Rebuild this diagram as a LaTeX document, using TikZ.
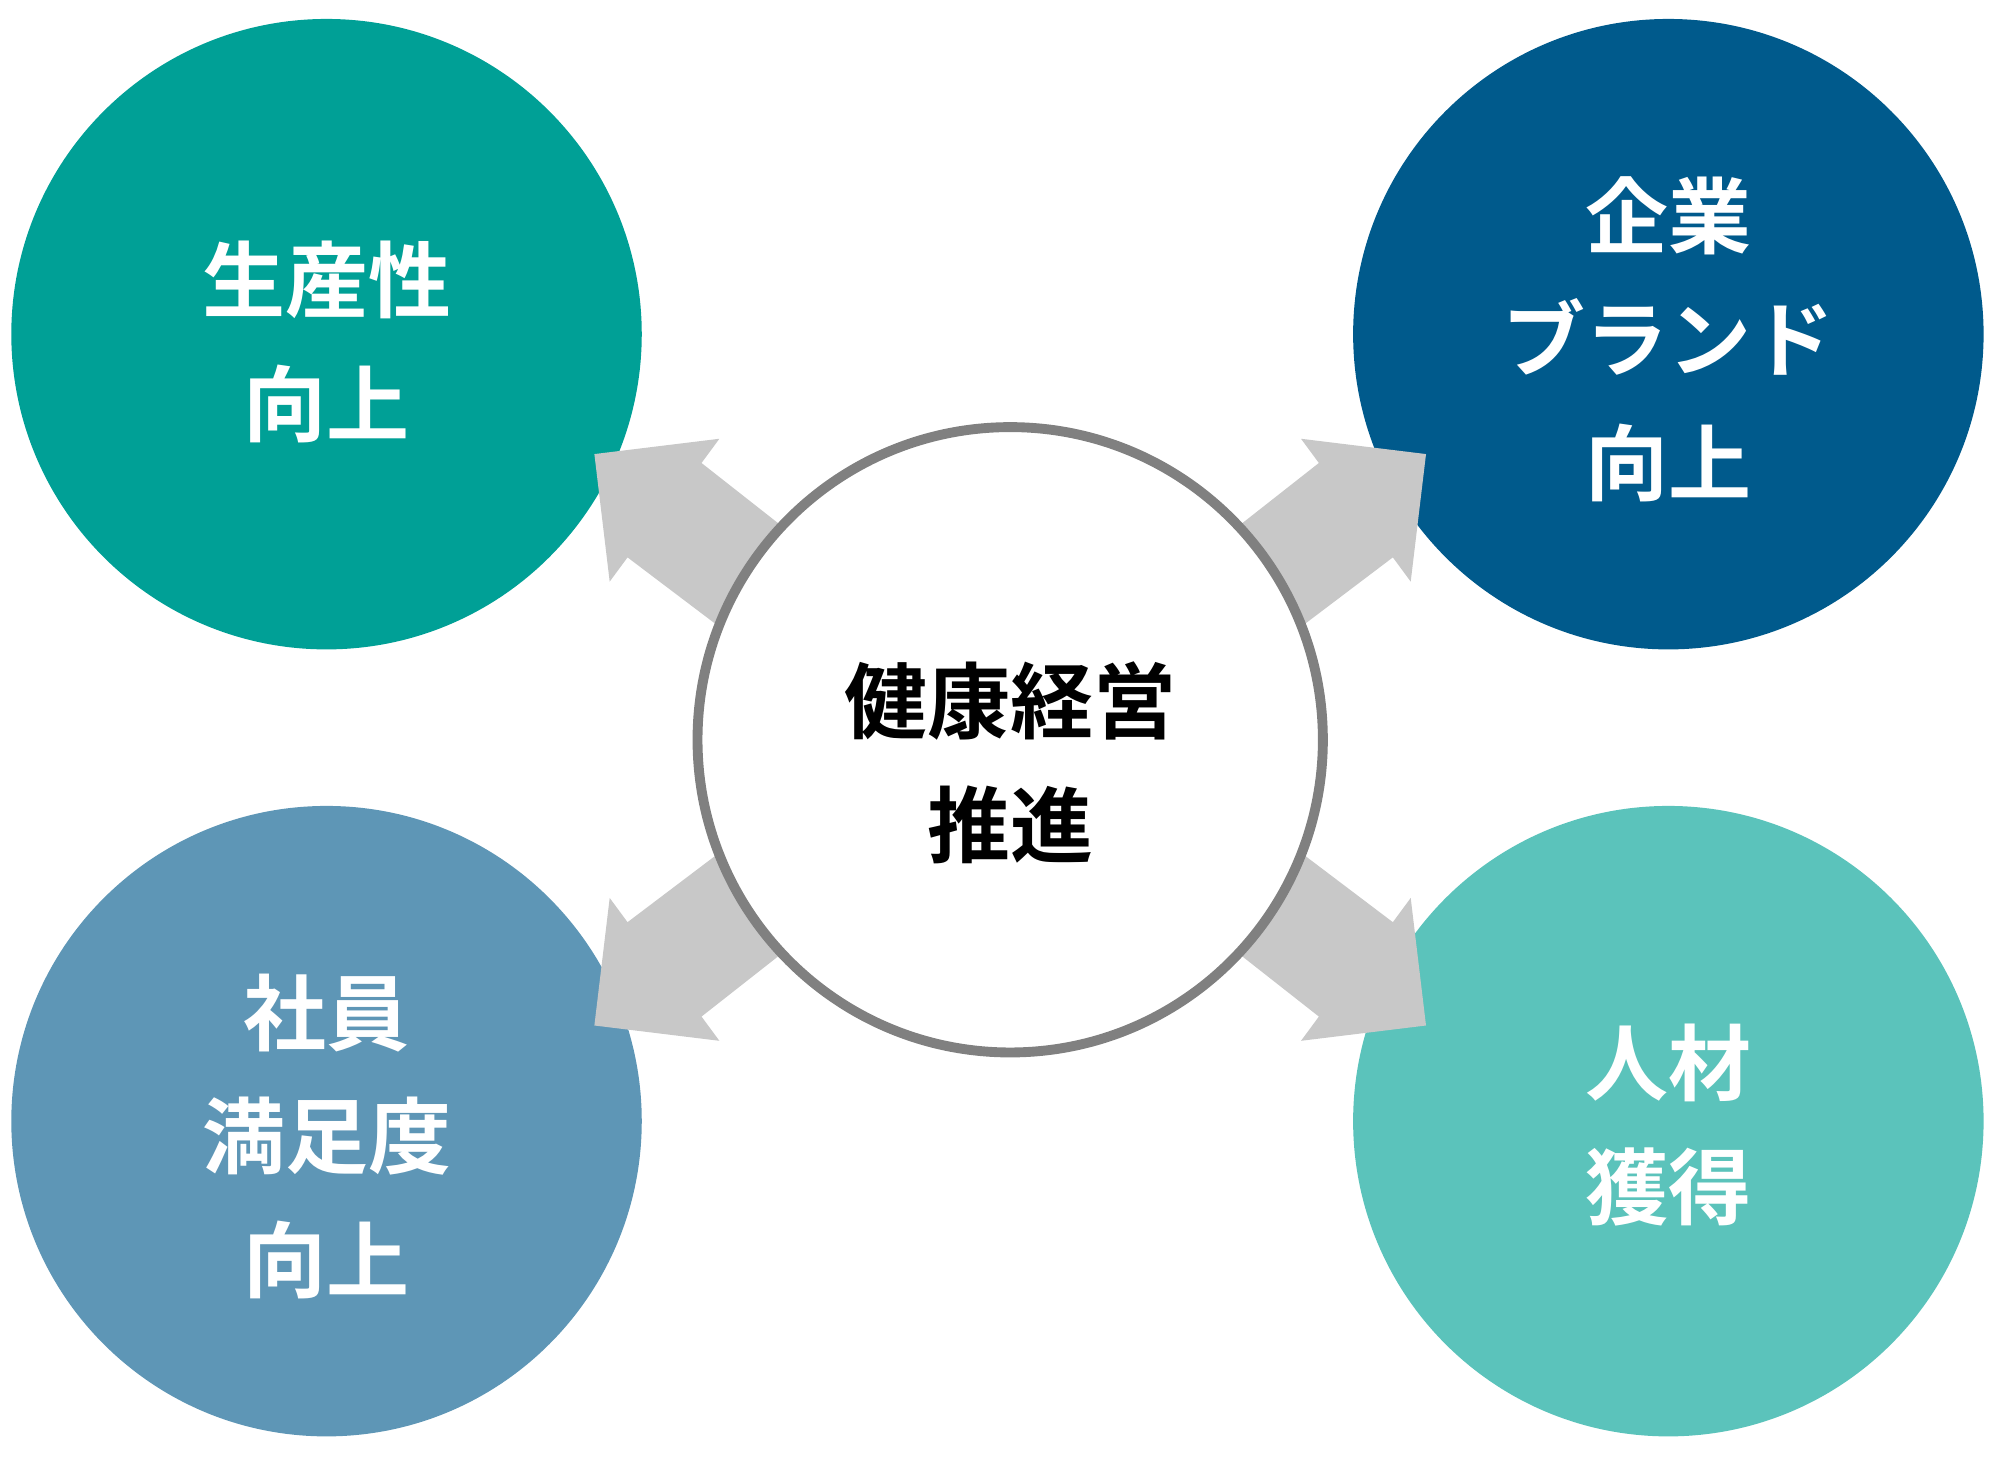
\documentclass[tikz,border=0pt]{standalone}
\usepackage{fontspec}
\newfontfamily\cjk{Noto Sans CJK JP Bold}
\definecolor{cTL}{HTML}{00A096}
\definecolor{cTR}{HTML}{005A8C}
\definecolor{cBL}{HTML}{5E96B6}
\definecolor{cBR}{HTML}{5BC3BB}
\definecolor{arr}{HTML}{C8C8C8}
\definecolor{ring}{HTML}{808080}
\begin{document}
\begin{tikzpicture}[x=0.01cm,y=-0.01cm,
  outer/.style={circle,minimum size=4.94cm,inner sep=0pt},
  lbl/.style={font=\cjk\fontsize{18.5}{27.5}\selectfont,align=center,text=white},
  arrowshape/.style={fill=arr,draw=none}]
\useasboundingbox (0,0) rectangle (1568,1152);
\node[outer,fill=cTL] (tl) at (256,262) {};
\node[outer,fill=cTR] (tr) at (1308,262) {};
\node[outer,fill=cBL] (bl) at (256,879) {};
\node[outer,fill=cBR] (br) at (1308,879) {};
\fill[arrowshape] (466,356) -- (564,344) -- (550,363) -- (620,418) -- (570,496) -- (492,437) -- (478,456) -- cycle;
\fill[arrowshape] (1118,356) -- (1020,344) -- (1034,363) -- (964,418) -- (1014,496) -- (1092,437) -- (1106,456) -- cycle;
\fill[arrowshape] (466,804) -- (564,816) -- (550,797) -- (620,742) -- (570,664) -- (492,723) -- (478,704) -- cycle;
\fill[arrowshape] (1118,804) -- (1020,816) -- (1034,797) -- (964,742) -- (1014,664) -- (1092,723) -- (1106,704) -- cycle;
\node[circle,minimum size=4.9cm,inner sep=0pt,fill=white,draw=ring,line width=2.2pt] (c) at (792,580) {};
\node[lbl,text=black] (ct) at (792,598) {健康経営\\推進};
\node[lbl] (tlt) at (256,268) {生産性\\向上};
\node[lbl] (trt) at (1308,266) {企業\\ブランド\\向上};
\node[lbl] (blt) at (256,891) {社員\\満足度\\向上};
\node[lbl] (brt) at (1308,882) {人材\\獲得};
\end{tikzpicture}
\end{document}
